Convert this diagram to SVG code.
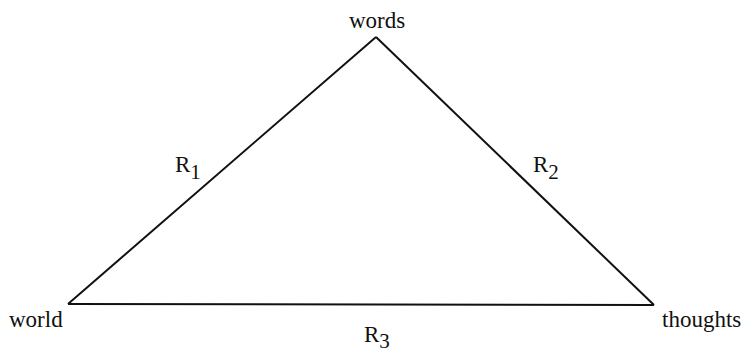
<svg xmlns="http://www.w3.org/2000/svg" width="747" height="355" viewBox="0 0 747 355">
<style>
text{font-family:"Liberation Serif","Times New Roman",serif;fill:#111;font-size:23px}
.sub{font-size:21px}
.edge{stroke:#111;stroke-width:2;fill:none}
</style>
<rect width="747" height="355" fill="#fff"/>
<g id="connectors">
<line class="edge" x1="376" y1="37" x2="68" y2="304"/>
<line class="edge" x1="376" y1="37" x2="654" y2="305"/>
<line class="edge" x1="68" y1="304" x2="654" y2="305"/>
<text x="175" y="172">R<tspan class="sub" dy="7">1</tspan></text>
<text x="533" y="172">R<tspan class="sub" dy="7">2</tspan></text>
<text x="364" y="342">R<tspan class="sub" dy="6">3</tspan></text>
</g>
<g id="words"><text x="377" y="28" text-anchor="middle">words</text></g>
<g id="world"><text x="9" y="327">world</text></g>
<g id="thoughts"><text x="662" y="327">thoughts</text></g>
</svg>
